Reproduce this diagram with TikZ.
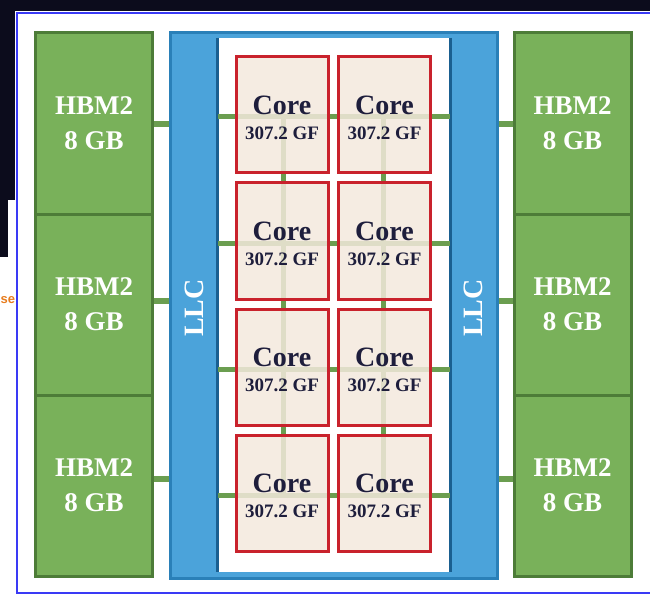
\documentclass[tikz,border=0pt]{standalone}
\usepackage{fontspec}
\setmainfont{Liberation Serif}
\setsansfont{Liberation Sans}
\definecolor{darkbg}{HTML}{0C0C1C}
\definecolor{framec}{HTML}{3A3AF5}
\definecolor{fragc}{HTML}{E87D1E}
\definecolor{hbmfill}{HTML}{79B15A}
\definecolor{hbmdraw}{HTML}{4D7C38}
\definecolor{linkc}{HTML}{6B9E50}
\definecolor{llcfill}{HTML}{4BA3DA}
\definecolor{llcdraw}{HTML}{2A80B8}
\definecolor{llcinner}{HTML}{1A5F90}
\definecolor{corefill}{HTML}{F4E9DD}
\definecolor{corered}{HTML}{C9222C}
\definecolor{coretext}{HTML}{1E1E3C}
\begin{document}
\begin{tikzpicture}[x=1pt,y=-1pt,
  hbm/.style={draw=hbmdraw, fill=hbmfill, line width=3pt, minimum width=117pt,
    minimum height=181pt, inner sep=0pt, text=white, align=center,
    font=\bfseries\fontsize{27}{35}\selectfont},
  llcbox/.style={draw=llcdraw, fill=llcfill, line width=3pt, inner sep=0pt},
  llctext/.style={text=white, font=\bfseries\fontsize{28}{28}\selectfont, inner sep=0pt},
  corebox/.style={draw=corered, fill=corefill, fill opacity=0.85,
    line width=3pt, minimum width=92pt, minimum height=116pt, inner sep=0pt},
  coretxt/.style={inner sep=0pt, align=center, text=coretext,
    font=\bfseries\fontsize{28}{25}\selectfont},
  link/.style={draw=linkc, line width=6pt},
  meshline/.style={draw=linkc, line width=5pt}
]
\useasboundingbox (0,0) rectangle (650,596);
\fill[white] (0,0) rectangle (650,596);
\fill[darkbg] (0,0) rectangle (650,11);
\fill[darkbg] (0,0) rectangle (15,200);
\fill[darkbg] (0,200) rectangle (8,257);
\node[anchor=west, inner sep=0pt, text=fragc, font=\sffamily\bfseries\fontsize{13}{13}\selectfont] (frag) at (0.5,300) {se};
\draw[framec, line width=2pt] (16.5,13.5) rectangle (653,593);

% HBM stacks
\node[hbm] (hbmL1) at (94,123.5) {HBM2\\8 GB};
\node[hbm] (hbmL2) at (94,304.5) {HBM2\\8 GB};
\node[hbm] (hbmL3) at (94,485.5) {HBM2\\8 GB};
\node[hbm] (hbmR1) at (572.5,123.5) {HBM2\\8 GB};
\node[hbm] (hbmR2) at (572.5,304.5) {HBM2\\8 GB};
\node[hbm] (hbmR3) at (572.5,485.5) {HBM2\\8 GB};

% LLC and mesh area
\node[llcbox, minimum width=327pt, minimum height=545pt] (llc) at (333.5,305.5) {};
\node[fill=white, inner sep=0pt, minimum width=232pt, minimum height=534pt] (mesh) at (334,305) {};
\draw[llcinner, line width=3pt] (mesh.north west) -- (mesh.south west);
\draw[llcinner, line width=3pt] (mesh.north east) -- (mesh.south east);

% mesh lines
\coordinate (h1) at (0,117);
\coordinate (h2) at (0,243);
\coordinate (h3) at (0,369);
\coordinate (h4) at (0,495);
\foreach \h in {h1,h2,h3,h4}{
  \draw[meshline] (mesh.west |- \h) -- (mesh.east |- \h);
}
\coordinate (v1t) at (283,117);
\coordinate (v1b) at (283,495);
\coordinate (v2t) at (383,117);
\coordinate (v2b) at (383,495);
\draw[meshline] (v1t) -- (v1b);
\draw[meshline] (v2t) -- (v2b);

% cores
\foreach \r/\y in {1/115,2/241,3/367,4/493}{
  \node[corebox] (core\r1) at (282,\y) {};
  \node[corebox] (core\r2) at (384.5,\y) {};
  \node[coretxt] (txt\r1) at (282,\y+3) {Core\\{\fontsize{19}{25}\selectfont 307.2 GF}};
  \node[coretxt] (txt\r2) at (384.5,\y+3) {Core\\{\fontsize{19}{25}\selectfont 307.2 GF}};
}

% LLC labels
\node[llctext, rotate=90] (llcL) at (194,308) {LLC};
\node[llctext, rotate=90] (llcR) at (473.5,308) {LLC};

% HBM to LLC links
\coordinate (c1) at (0,124);
\coordinate (c2) at (0,301);
\coordinate (c3) at (0,479);
\draw[link] (hbmL1.east |- c1) -- (llc.west |- c1);
\draw[link] (hbmL2.east |- c2) -- (llc.west |- c2);
\draw[link] (hbmL3.east |- c3) -- (llc.west |- c3);
\draw[link] (llc.east |- c1) -- (hbmR1.west |- c1);
\draw[link] (llc.east |- c2) -- (hbmR2.west |- c2);
\draw[link] (llc.east |- c3) -- (hbmR3.west |- c3);
\end{tikzpicture}
\end{document}
